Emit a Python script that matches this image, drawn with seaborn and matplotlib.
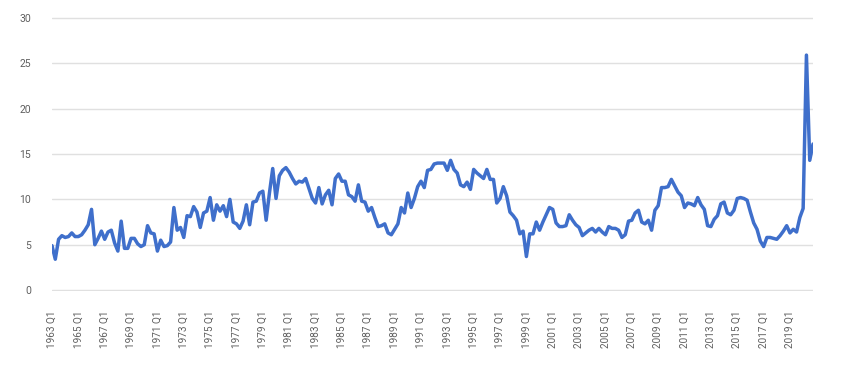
import matplotlib

matplotlib.use("Agg")
import matplotlib.pyplot as plt
import numpy as np
import pandas as pd
import seaborn as sns

######Data: quarterly values, 1963 Q1 to 2020 Q4
first_year = 1963
last_year = 2020
quarters = [f"{y} Q{q}" for y in range(first_year, last_year + 1) for q in range(1, 5)]

values_1960s = [
    4.9, 3.4, 5.6, 6.0, 5.8, 5.9, 6.3, 5.9, 5.9, 6.1,
    6.6, 7.2, 8.9, 5.0, 5.7, 6.5, 5.6, 6.4, 6.6, 5.2,
    4.3, 7.6, 4.6, 4.6, 5.7, 5.7, 5.1, 4.8,
]
values_1970s = [
    5.0, 7.1, 6.3, 6.2, 4.3, 5.5, 4.8, 4.9, 5.3, 9.1,
    6.6, 6.9, 5.8, 8.2, 8.1, 9.2, 8.6, 6.9, 8.5, 8.7,
    10.2, 7.7, 9.4, 8.7, 9.3, 8.1, 10.0, 7.5, 7.3, 6.8,
    7.6, 9.4, 7.2, 9.7, 9.8, 10.7, 10.9, 7.7, 10.7, 13.4,
]
values_1980s = [
    10.1, 12.6, 13.2, 13.5, 13.0, 12.3, 11.7, 12.0, 11.9, 12.3,
    11.2, 10.1, 9.6, 11.3, 9.5, 10.5, 11.0, 9.4, 12.3, 12.8,
    12.0, 12.0, 10.5, 10.3, 9.8, 11.6, 9.8, 9.7, 8.7, 9.1,
    8.0, 7.0, 7.1, 7.3, 6.3, 6.1, 6.7, 7.3, 9.1, 8.5,
]
values_1990s = [
    10.7, 9.1, 10.1, 11.4, 12.0, 11.3, 13.2, 13.3, 13.9, 14.0,
    14.0, 14.0, 13.2, 14.3, 13.3, 12.9, 11.6, 11.4, 11.9, 11.1,
    13.3, 12.9, 12.6, 12.3, 13.3, 12.2, 12.2, 9.6, 10.1, 11.4,
    10.4, 8.6, 8.2, 7.7, 6.2, 6.5, 3.7, 6.2, 6.2, 7.5,
]
values_2000s = [
    6.6, 7.5, 8.3, 9.1, 8.9, 7.4, 7.0, 7.0, 7.1, 8.3,
    7.7, 7.2, 6.9, 6.0, 6.3, 6.6, 6.8, 6.4, 6.8, 6.4,
    6.1, 7.0, 6.8, 6.8, 6.6, 5.8, 6.1, 7.6, 7.7, 8.5,
    8.8, 7.5, 7.3, 7.7, 6.6, 8.8, 9.3, 11.3, 11.3, 11.4,
]
values_2010s = [
    12.2, 11.5, 10.8, 10.4, 9.1, 9.6, 9.5, 9.3, 10.2, 9.4,
    8.9, 7.1, 7.0, 7.8, 8.2, 9.5, 9.7, 8.5, 8.3, 8.8,
    10.1, 10.2, 10.1, 9.9, 8.6, 7.4, 6.7, 5.4, 4.8, 5.8,
    5.8, 5.7, 5.6, 6.0, 6.5, 7.1, 6.3, 6.7, 6.4, 8.0,
]
values_2020 = [9.0, 25.9, 14.3, 16.1]

values = (
    values_1960s + values_1970s + values_1980s
    + values_1990s + values_2000s + values_2010s + values_2020
)

df = pd.DataFrame({"quarter": quarters, "value": values})
df["pos"] = np.arange(len(df))

######Plot
sns.set_style("white")
plt.rcParams["font.family"] = ["Roboto", "DejaVu Sans"]

fig = plt.figure(figsize=(8.44, 3.69), dpi=100)
ax = fig.add_axes([0.0616, 0.2114, 0.9017, 0.7425])

sns.lineplot(data=df, x="pos", y="value", color="#3f6fcb", linewidth=2.5, ax=ax)

ax.set_xlim(0, len(df) - 1)
ax.set_ylim(-0.1, 30.1)
ax.set_yticks(range(0, 31, 5))
ax.set_xticks(df["pos"][::8])
ax.set_xticklabels(df["quarter"][::8], rotation=90)

ax.grid(axis="y", color="#e0e0e0", linewidth=1)
ax.grid(axis="x", visible=False)
ax.set_axisbelow(True)
for side in ["top", "right", "left", "bottom"]:
    ax.spines[side].set_visible(False)

ax.tick_params(axis="y", length=0, pad=15, labelsize=7.5, labelcolor="#5f5f5f")
ax.tick_params(axis="x", length=0, pad=14, labelsize=7.2, labelcolor="#5f5f5f")
ax.set_xlabel("")
ax.set_ylabel("")

plt.savefig("out.png", dpi=100, facecolor="white")
plt.close(fig)
